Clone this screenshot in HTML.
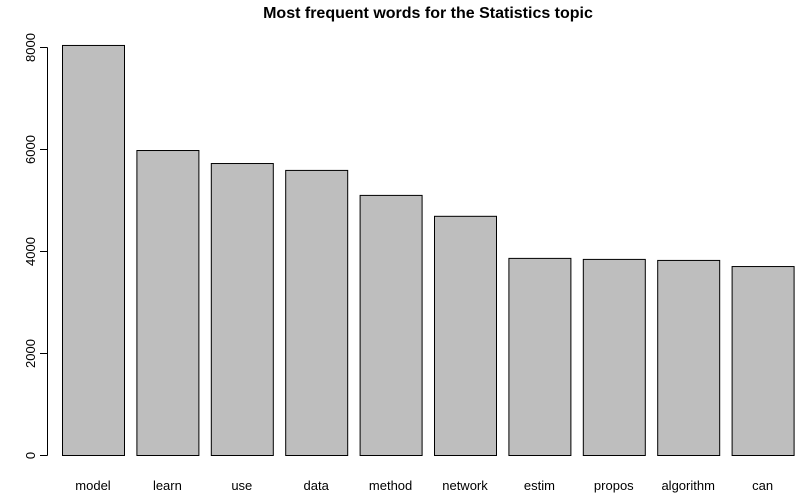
<!DOCTYPE html>
<html><head><meta charset="utf-8"><style>
body{margin:0;background:#fff}
svg{display:block;font-family:"Liberation Sans",sans-serif}
</style></head><body>
<svg id="chart" width="799" height="495" viewBox="0 0 799 495">
<text x="428" y="18" text-anchor="middle" font-size="16" font-weight="bold">Most frequent words for the Statistics topic</text>
<g id="bars"></g>
<g id="yaxis"></g>
</svg>
<script>
const categories=["model","learn","use","data","method","network","estim","propos","algorithm","can"];
const values=[8040,5980,5725,5590,5100,4690,3865,3845,3825,3705];
const yTicks=[0,2000,4000,6000,8000];
const NS="http://www.w3.org/2000/svg";
const y0=455,yScale=408/8000;
function y(v){return y0-v*yScale;}
function x(i){return 62+i*74.4;}
const bw=62;
const bars=document.getElementById('bars');
categories.forEach((c,i)=>{
 const r=document.createElementNS(NS,'rect');
 
 
 r.setAttribute('x',x(i)+0.5);r.setAttribute('y',y(values[i])+0.5);
 r.setAttribute('width',bw);r.setAttribute('height',y0-y(values[i]));
 r.setAttribute('fill','#bebebe');r.setAttribute('stroke','#000');r.setAttribute('stroke-width','1');
 bars.appendChild(r);
 const t=document.createElementNS(NS,'text');
 
 
 t.setAttribute('x',x(i)+bw/2);t.setAttribute('y',490);
 t.setAttribute('text-anchor','middle');t.setAttribute('font-size','13');
 t.textContent=c;bars.appendChild(t);
});
const ax=document.getElementById('yaxis');
const l=document.createElementNS(NS,'line');


l.setAttribute('x1',47.5);l.setAttribute('x2',47.5);l.setAttribute('y1',y(0)+0.5);l.setAttribute('y2',y(8000)+0.5);
l.setAttribute('stroke','#000');ax.appendChild(l);
yTicks.forEach(v=>{
 const tk=document.createElementNS(NS,'line');
 
 
 tk.setAttribute('x1',40);tk.setAttribute('x2',47.5);tk.setAttribute('y1',y(v)+0.5);tk.setAttribute('y2',y(v)+0.5);
 tk.setAttribute('stroke','#000');ax.appendChild(tk);
 const t=document.createElementNS(NS,'text');
 
 
 t.setAttribute('transform','translate(35,'+(y(v)+0.5)+') rotate(-90)');
 t.setAttribute('text-anchor','middle');t.setAttribute('font-size','13');
 t.textContent=v;ax.appendChild(t);
});
</script>
</body></html>
